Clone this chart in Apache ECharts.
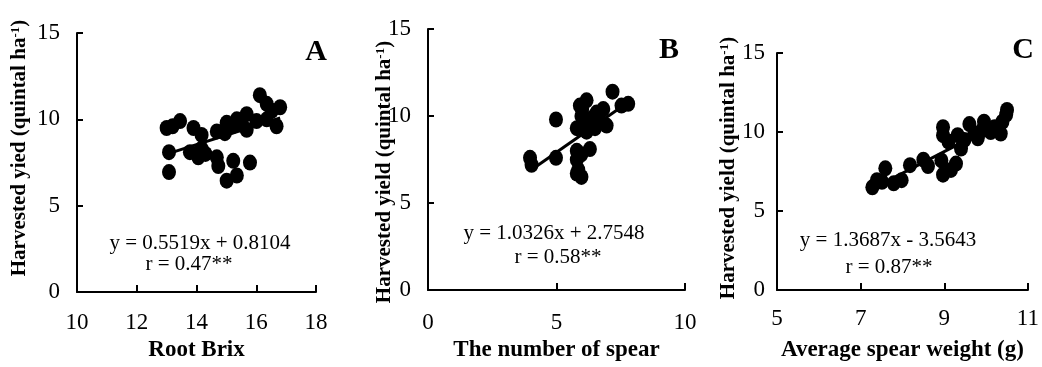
<!DOCTYPE html>
<html>
<head>
<meta charset="utf-8">
<script src="https://cdn.jsdelivr.net/npm/echarts@6/dist/echarts.min.js"></script>
<style>html,body{margin:0;padding:0;background:#fff}#c{width:1042px;height:367px}</style>
</head>
<body>
<div id="c"></div>
<script>
// ---- data ----
const pointsA = [[13.0,9.5],[13.2,9.6],[13.45,9.9],[13.08,8.1],[13.08,6.95],[13.9,9.5],[14.17,9.1],[13.78,8.1],[14.06,7.8],[14.17,8.3],[14.68,9.3],[15.01,9.8],[14.95,9.2],[14.68,7.8],[14.73,7.3],[15.23,7.6],[15.35,6.75],[15.01,6.45],[15.79,7.5],[15.35,10.0],[15.68,10.3],[15.68,9.4],[15.5,9.7],[16.01,9.9],[16.12,11.4],[16.35,10.9],[16.52,10.5],[16.8,10.7],[16.68,9.6],[16.35,10.0],[15.2,9.6],[14.3,8.0]];
const pointsB = [[3.97,7.6],[4.03,7.2],[4.98,7.6],[4.98,9.8],[5.79,9.3],[5.91,10.6],[6.17,10.9],[5.97,10.0],[6.3,9.6],[6.56,10.2],[6.82,10.4],[6.95,9.45],[6.5,9.3],[6.17,9.1],[5.79,8.0],[6.3,8.1],[5.97,7.8],[5.79,7.5],[5.85,6.9],[5.97,6.5],[5.79,6.7],[7.18,11.4],[7.53,10.6],[7.79,10.7],[6.0,10.4],[6.1,9.6],[6.4,9.9],[6.7,9.7]];
const pointsC = [[7.28,6.5],[7.39,6.95],[7.51,6.85],[7.59,7.7],[7.79,6.75],[7.98,6.95],[8.18,7.9],[8.5,8.25],[8.61,7.85],[8.97,10.3],[8.97,9.8],[8.93,8.2],[8.97,7.3],[9.16,7.6],[9.28,8.0],[9.32,9.8],[9.48,9.5],[9.6,10.5],[9.72,9.9],[9.95,10.65],[10.11,10.0],[10.35,9.9],[10.39,10.65],[10.5,11.4],[10.48,11.1],[9.4,8.95],[9.8,9.6],[9.1,9.4],[10.2,10.3],[9.9,10.1]];
// trend line end points (on the printed equations)
const trendA = [[13.0,7.99],[16.8,10.08]];
const trendB = [[4.0,6.88],[7.8,10.81]];
const trendC = [[7.3,6.43],[10.5,10.81]];
// axis ranges / ticks
const xTicksA = [10,12,14,16,18];
const xTicksB = [0,5,10];
const xTicksC = [5,7,9,11];
const yTicks = [0,5,10,15];
// texts
const eqA = 'y = 0.5519x + 0.8104', rA = 'r = 0.47**';
const eqB = 'y = 1.0326x + 2.7548', rB = 'r = 0.58**';
const eqC = 'y = 1.3687x - 3.5643', rC = 'r = 0.87**';
const xNames = ['Root Brix','The number of spear','Average spear weight (g)'];
const yNames = ['Harvested yied (quintal ha','Harvested yield (quintal ha','Harvested yield (quintal ha'];
const panelLetters = ['A','B','C'];

// ---- chart ----
const FONT = '"Liberation Serif","Times New Roman",serif';
const chart = echarts.init(document.getElementById('c'), null, {renderer:'canvas'});
const ellipse = 'path://M1,0A1,1,0,1,1,-1,0A1,1,0,1,1,1,0Z';

const grids = [
  {left:77, top:33, width:239, height:261},
  {left:428, top:29, width:257, height:264},
  {left:777, top:53, width:254, height:240}
];
const xTickSets = [xTicksA, xTicksB, xTicksC];
const yLabelMargins = [17, 17, 12];
const xLabelMargins = [19, 21, 17];

function xAxis(i){
  const t = xTickSets[i];
  const ax = {
    type:'value', gridIndex:i, min:t[0], max:t[t.length-1], interval:t[1]-t[0],
    name:xNames[i], nameLocation:'middle', nameGap:[46,47,49][i],
    nameTextStyle:{fontFamily:FONT, fontWeight:'bold', fontSize:23, color:'#000'},
    axisLine:{show:true, onZero:false, lineStyle:{color:'#000', width:2}},
    axisTick:{show:true, inside:true, length:7, lineStyle:{color:'#000', width:2}},
    axisLabel:{fontFamily:FONT, fontSize:23, color:'#000', margin:xLabelMargins[i], showMinLabel:true, showMaxLabel:true},
    splitLine:{show:false}
  };
  if (t[0] % (t[1]-t[0]) !== 0) {
    ax.interval = 1;
    ax.axisTick.customValues = t;
    ax.axisLabel.customValues = t;
  }
  return ax;
}
function yAxis(i){
  return {
    type:'value', gridIndex:i, min:yTicks[0], max:yTicks[yTicks.length-1], interval:5,
    axisLine:{show:true, onZero:false, lineStyle:{color:'#000', width:2}},
    axisTick:{show:true, inside:true, length:6, lineStyle:{color:'#000', width:2}},
    axisLabel:{fontFamily:FONT, fontSize:23, color:'#000', margin:yLabelMargins[i]},
    splitLine:{show:false}
  };
}
function scatter(i, data){
  return {type:'scatter', xAxisIndex:i, yAxisIndex:i, data:data, symbol:ellipse, symbolSize:[14,16],
    itemStyle:{color:'#000', opacity:1}, z:3, silent:true};
}
function trend(i, data){
  return {type:'line', xAxisIndex:i, yAxisIndex:i, data:data, symbol:'none',
    lineStyle:{color:'#000', width:3}, z:2, silent:true};
}
function txt(x, y, text, size, bold){
  return {type:'text', x:x, y:y, z:10, style:{text:text, fill:'#000', font:(bold?'bold ':'')+size+'px '+FONT, align:'center', verticalAlign:'middle'}};
}
function ytitle(x, y, name){
  return {type:'text', x:x, y:y, rotation:Math.PI/2, z:10, style:{
    text:'{b|'+name+'}{s|-1}{b|)}', align:'center', verticalAlign:'middle',
    rich:{
      b:{fontFamily:FONT, fontWeight:'bold', fontSize:21, fill:'#000', color:'#000', lineHeight:22},
      s:{fontFamily:FONT, fontWeight:'bold', fontSize:13, fill:'#000', color:'#000', verticalAlign:'top', lineHeight:22}
    }}};
}

chart.setOption({
  animation:false,
  backgroundColor:'#fff',
  grid:grids,
  xAxis:[0,1,2].map(xAxis),
  yAxis:[0,1,2].map(yAxis),
  series:[scatter(0,pointsA), trend(0,trendA), scatter(1,pointsB), trend(1,trendB), scatter(2,pointsC), trend(2,trendC)],
  graphic:[
    txt(200,243,eqA,21,false), txt(189,264,rA,21,false),
    txt(554,233,eqB,21,false), txt(558,257,rB,21,false),
    txt(888,240,eqC,21,false), txt(889,267,rC,21,false),
    txt(316,52,panelLetters[0],30,true), txt(669,50,panelLetters[1],30,true), txt(1023,50,panelLetters[2],30,true),
    ytitle(20,148,yNames[0]), ytitle(385,172,yNames[1]), ytitle(729,168,yNames[2])
  ]
});
</script>
</body>
</html>
